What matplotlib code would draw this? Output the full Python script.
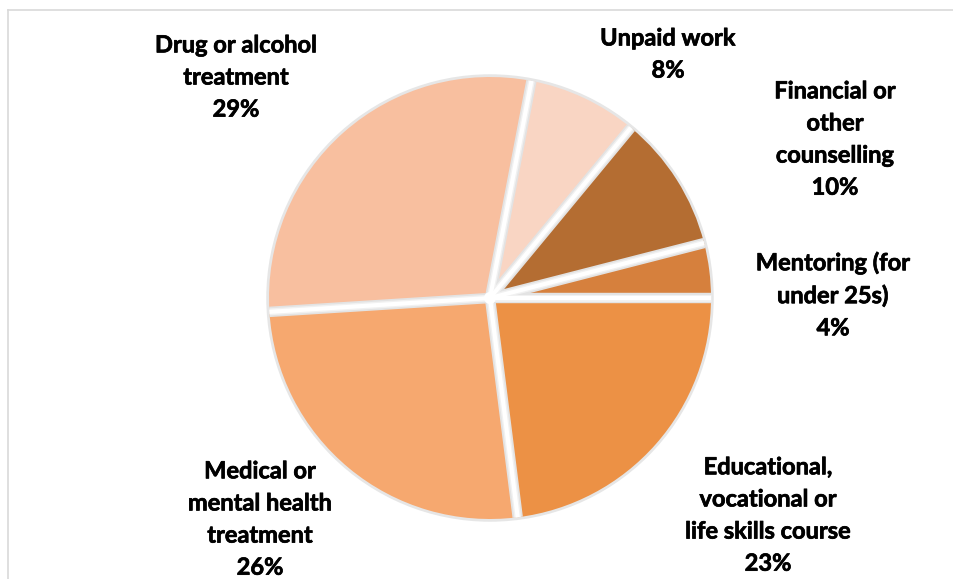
import numpy as np
import matplotlib.pyplot as plt
import matplotlib.patheffects as pe
from matplotlib.lines import Line2D
from matplotlib.patches import Circle

# slice order runs counter-clockwise from 3 o'clock
categories = [
    "Mentoring (for\nunder 25s)",
    "Financial or\nother\ncounselling",
    "Unpaid work",
    "Drug or alcohol\ntreatment",
    "Medical or\nmental health\ntreatment",
    "Educational,\nvocational or\nlife skills course",
]
shares = [4, 10, 8, 29, 26, 23]
colors = ["#D6803D", "#B46D32", "#F9D5C3", "#F8BF9F", "#F6A86F", "#EC9145"]

# label block centres, pixel coords from top-left
label_xy = [(833, 295), (835, 139), (668, 54), (236, 77), (260, 519), (768, 515)]

W, H = 954, 579
CX, CY, R = 490, 298, 221
cy = H - CY

plt.rcParams["font.family"] = ["Lato", "DejaVu Sans"]
fig = plt.figure(figsize=(W / 100, H / 100), dpi=100)
ax = fig.add_axes([0, 0, 1, 1])

# faint shadow round the rim, under the slices
ax.add_patch(Circle((CX, cy), R + 1, facecolor="none", edgecolor="#e6e6e6", lw=2.5, zorder=0))

wedges, _ = ax.pie(shares, colors=colors, startangle=0, counterclock=True,
                   radius=R, center=(CX, cy), frame=True,
                   wedgeprops=dict(edgecolor="none", zorder=1))

# white gaps with grey sides along each slice boundary
for w in wedges:
    a = np.deg2rad(w.theta2)
    xs = [CX, CX + R * np.cos(a)]
    ys = [cy, cy + R * np.sin(a)]
    ax.plot(xs, ys, color="#e3e3e3", lw=7.5, solid_capstyle="butt", zorder=2)
    ax.plot(xs, ys, color="#f1f1f1", lw=5.0, solid_capstyle="butt", zorder=3)
    ax.plot(xs, ys, color="white", lw=3.0, solid_capstyle="butt", zorder=4)
ax.add_patch(Circle((CX, cy), 6, facecolor="white", edgecolor="none", zorder=5))

ax.set_xlim(0, W)
ax.set_ylim(0, H)
ax.set_aspect("equal")
ax.axis("off")

heavy = [pe.withStroke(linewidth=0.5, foreground="black")]
for name, pct, (x, y) in zip(categories, shares, label_xy):
    ax.text(x, H - y, f"{name}\n{pct}%", ha="center", va="center",
            multialignment="center", fontsize=17, fontweight="bold",
            linespacing=1.48, color="black", path_effects=heavy)

# chart area outline (top and left edges visible)
fig.add_artist(Line2D([8 / W, 1], [1 - 10 / H, 1 - 10 / H], color="#d9d9d9", lw=1.2))
fig.add_artist(Line2D([8 / W, 8 / W], [0, 1 - 10 / H], color="#d9d9d9", lw=1.2))

fig.savefig("out.png", dpi=100)
